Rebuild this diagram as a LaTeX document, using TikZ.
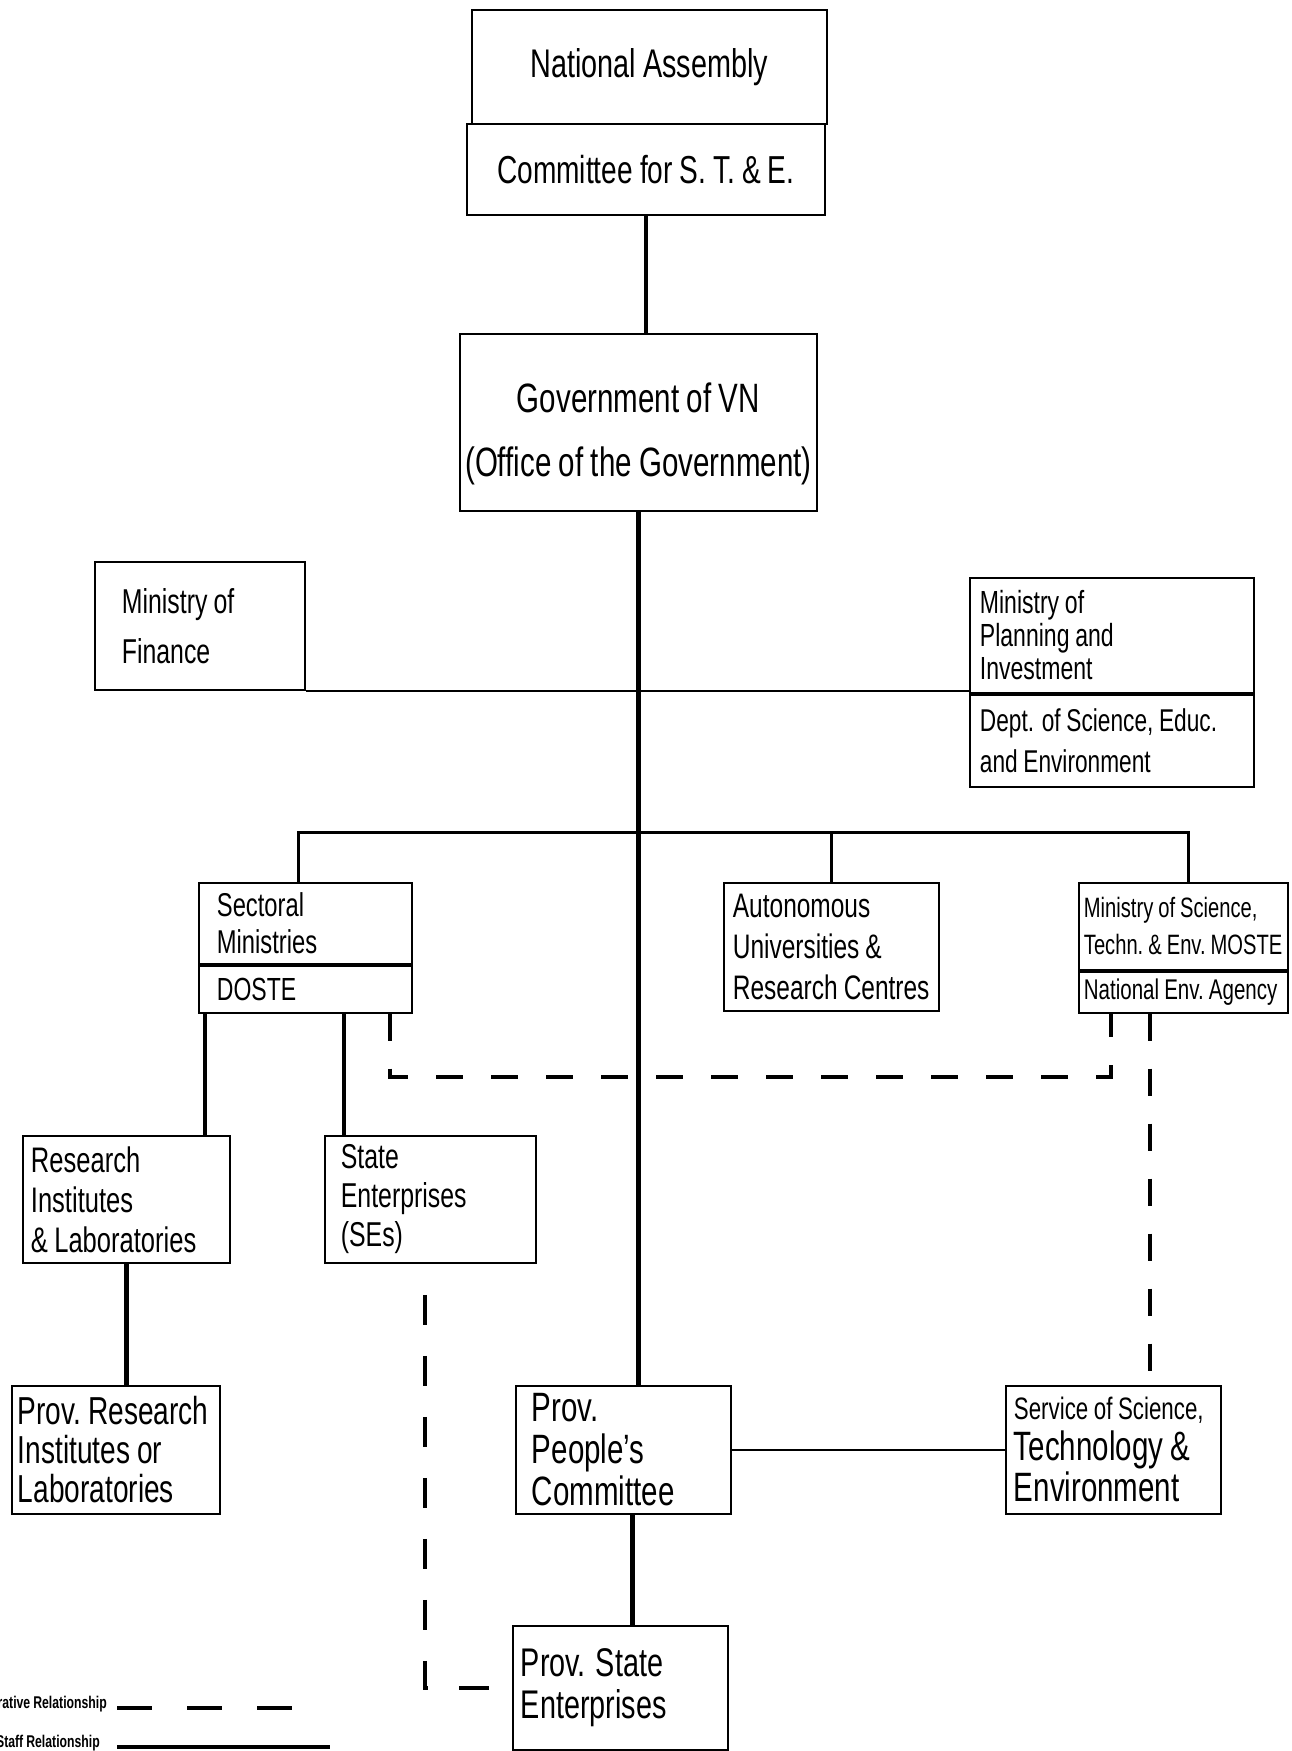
\documentclass[tikz,border=0pt]{standalone}
\usepackage{fontspec}
\setmainfont{Liberation Sans}[FakeStretch=0.72]
\hyphenpenalty=10000
\exhyphenpenalty=10000

\newcommand{\setfs}[2]{\fontsize{#1}{#2}\selectfont\spaceskip=0.18em plus 0.04em minus 0.02em\relax}

\begin{document}
\begin{tikzpicture}[x=1pt, y=-1pt,
    orgbox/.style={draw, line width=1.8pt, anchor=north west, align=flush left, inner ysep=0pt},
    topbox/.style={align=flush center, inner xsep=0pt},
    solidline/.style={line width=4.5pt},
    busline/.style={line width=3pt},
    thinline/.style={line width=2.4pt},
    coopline/.style={line width=4pt, dash pattern=on 27pt off 28pt}]

    \useasboundingbox (0,0) rectangle (1291,1751);
    \clip (0,0) rectangle (1291,1751);

    % Nodes
    \node[orgbox, topbox, minimum height=114pt, text width=355pt, font=\setfs{40}{44}] (na) at (471,9) {National Assembly};
    \node[orgbox, topbox, minimum height=91pt, text width=358pt, font=\setfs{39}{44}] (cste) at (466,123) {Committee for S. T. \& E.};
    \node[orgbox, topbox, minimum height=177pt, text width=357pt, font=\setfs{41}{64}] (gov) at (459,333) {\rule{0pt}{53pt}Government of VN\\(Office~of~the~Government)};

    \node[orgbox, minimum height=128pt, text width=156pt, inner xsep=27pt, font=\setfs{34.5}{50}] (fin) at (94,561) {Ministry of\\Finance};
    \node[orgbox, minimum height=115pt, text width=264pt, inner xsep=10pt, font=\setfs{32}{33}] (mpi) at (969,577) {Ministry of\\Planning and\\Investment};
    \node[orgbox, minimum height=92pt, text width=264pt, inner xsep=10pt, font=\setfs{31.5}{41}] (dsee) at (mpi.south west) {Dept. of Science, Educ.\\and Environment};

    % Middle row
    \node[orgbox, minimum height=81pt, text width=177pt, inner xsep=18pt, font=\setfs{33}{37}] (sect) at (198,882) {Sectoral\\Ministries};
    \node[orgbox, minimum height=47pt, text width=177pt, inner xsep=18pt, font=\setfs{32}{37}] (doste) at (sect.south west) {DOSTE};
    \node[orgbox, minimum height=128pt, text width=197pt, inner xsep=9pt, font=\setfs{34}{41}] (auto) at (723,882) {Autonomous\\Universities \&\\Research~Centres};
    \node[orgbox, minimum height=87pt, text width=199pt, inner xsep=5pt, font=\setfs{28}{37}] (moste) at (1078,882) {Ministry of Science,\\Techn.~\&~Env.~MOSTE};
    \node[orgbox, minimum height=41pt, text width=199pt, inner xsep=5pt, font=\setfs{28.5}{37}] (nea) at (moste.south west) {National~Env.~Agency};

    % Lower rows
    \node[orgbox, minimum height=127pt, text width=191pt, inner xsep=8pt, font=\setfs{35.5}{40}] (res) at (22,1135) {Research\\Institutes\\\& Laboratories};
    \node[orgbox, minimum height=127pt, text width=179pt, inner xsep=16pt, font=\setfs{34.5}{39}] (se) at (324,1135) {State\\Enterprises\\(SEs)};
    \node[orgbox, minimum height=128pt, text width=196pt, inner xsep=6pt, font=\setfs{39}{39}] (provres) at (11,1385) {Prov.~Research\\Institutes or\\Laboratories};
    \node[orgbox, minimum height=128pt, text width=183pt, inner xsep=16pt, font=\setfs{41}{42}] (ppc) at (515,1385) {Prov.\\People's\\Committee};
    \node[orgbox, minimum height=128pt, text width=199pt, inner xsep=8pt, font=\setfs{41}{41}] (svc) at (1005,1385) {{\setfs{31}{41}Service~of~Science,}\\Technology \&\\Environment};
    \node[orgbox, minimum height=124pt, text width=199pt, inner xsep=8pt, font=\setfs{40}{42}] (pse) at (512,1625) {Prov. State\\Enterprises};

    % Legend
    \node[anchor=base east, inner sep=0pt, font=\bfseries\setfs{17}{20}] (cooplab) at (107,1708) {Cooperative Relationship};
    \node[anchor=base east, inner sep=0pt, font=\bfseries\setfs{17}{20}] (stafflab) at (100,1747) {Staff Relationship};

    \coordinate (bus) at (0,832);
    \coordinate (coop) at (0,1077);

    % Staff links
    \draw[solidline] (cste.south) -- (cste.south |- gov.north);
    \draw[solidline] (gov.south) -- (gov.south |- ppc.north);
    \draw[thinline] (fin.south east) -- (fin.south east -| mpi.west);
    \draw[busline] ([xshift=-7pt]sect.north) -- ([xshift=-7pt]sect.north |- bus) -| ([xshift=5pt]moste.north);
    \draw[busline] (auto.north) -- (auto.north |- bus);
    \draw[solidline] ([xshift=7pt]doste.south west) -- ([xshift=7pt]doste.south west |- res.north);
    \draw[solidline] ([xshift=20pt]se.north west) -- ([xshift=20pt]se.north west |- doste.south);
    \draw[solidline] (res.south) -- (res.south |- provres.north);
    \draw[thinline] (ppc.east) -- (ppc.east -| svc.west);
    \draw[solidline] ([xshift=9pt]ppc.south) -- ([xshift=9pt]ppc.south |- pse.north);

    % Cooperative links
    \draw[coopline] ([xshift=-23pt]doste.south east) -- ([xshift=-23pt]doste.south east |- coop)
        -- ([xshift=33pt]nea.south west |- coop) -- ([xshift=33pt]nea.south west);
    \draw[coopline] ([xshift=72pt]nea.south west) -- ([xshift=72pt]nea.south west |- svc.north);
    \draw[coopline, dash pattern=on 30pt off 31pt, dash phase=30pt] ([xshift=-5pt]se.south) -- ([xshift=-5pt]se.south |- pse.west) -- (pse.west);

    \draw[line width=4pt, dash pattern=on 35pt off 35pt] ([xshift=10pt]cooplab.base east) -- ++(176,0);
    \draw[line width=4pt] ([xshift=17pt]stafflab.base east) -- ++(213,0);

\end{tikzpicture}
\end{document}
